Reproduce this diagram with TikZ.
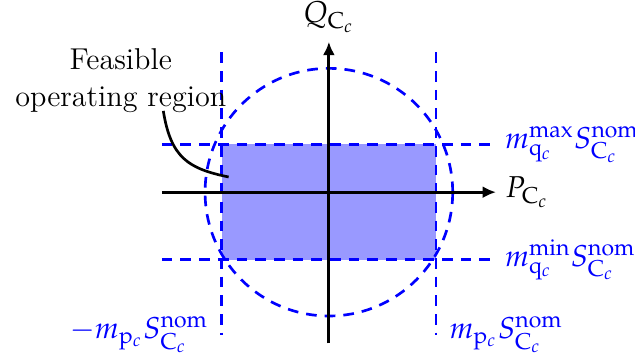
\documentclass[tikz,border=0pt]{standalone}
\usepackage{amsmath}
\usepackage{mathpazo}
\usetikzlibrary{arrows.meta,positioning,calc}

\begin{document}
\begin{tikzpicture}[
    every node/.style = {font=\fontsize{11.3}{13.8}\selectfont},
    axis/.style     = {-{Latex[length=5pt,width=4.5pt]}, line width=1.1pt, draw=black},
    limit/.style    = {dash pattern=on 4pt off 3pt, line width=1pt, draw=blue},
    limlabel/.style = {text=blue, inner sep=2pt},
    region/.style   = {fill=blue!40, draw=none},
    pinline/.style  = {line width=1pt, draw=black}
  ]
    \useasboundingbox (-4.33,-2.22) rectangle (4.03,2.53);

    % feasible box
    \fill[region] (-1.41,-0.89) rectangle (1.41,0.63);

    % limits
    \coordinate (pl) at (-1.41,1.84);  \coordinate (plb) at (-1.41,-1.88);
    \coordinate (pr) at (1.41,1.84);   \coordinate (prb) at (1.41,-1.88);
    \coordinate (qt) at (-2.2,0.63);   \coordinate (qte) at (2.12,0.63);
    \coordinate (qb) at (-2.2,-0.89);  \coordinate (qbe) at (2.12,-0.89);
    \draw[limit] (0,0) circle (1.63);
    \draw[limit] (pl) -- (plb);
    \draw[limit] (pr) -- (prb);
    \draw[limit] (qt) -- (qte);
    \draw[limit] (qb) -- (qbe);

    % axes
    \coordinate (xs) at (-2.2,0);   \coordinate (xe) at (2.2,0);
    \coordinate (ys) at (0,-1.99);  \coordinate (ye) at (0,1.98);
    \draw[axis] (xs) -- (xe);
    \draw[axis] (ys) -- (ye);
    \node[above=0pt of ye] (qlab) {$Q_{\mathrm{C}_c}$};
    \node[right=0pt of xe] (plab) {$P_{\mathrm{C}_c}$};

    % limit labels
    \node[limlabel, right=0.12cm of qte] (qmax) {$m_{\mathrm{q}_c}^{\mathrm{max}}S_{\mathrm{C}_c}^{\mathrm{nom}}$};
    \node[limlabel, right=0.12cm of qbe] (qmin) {$m_{\mathrm{q}_c}^{\mathrm{min}}S_{\mathrm{C}_c}^{\mathrm{nom}}$};
    \node[limlabel, left=0.1cm of plb]   (pmin) {$-m_{\mathrm{p}_c}S_{\mathrm{C}_c}^{\mathrm{nom}}$};
    \node[limlabel, right=0.1cm of prb]  (pmax) {$m_{\mathrm{p}_c}S_{\mathrm{C}_c}^{\mathrm{nom}}$};

    % annotation
    \node[align=center] (feas) at (-2.74,1.47) {Feasible\\operating region};
    \coordinate (pinstart) at (-2.18,1.07);
    \coordinate (pinend)   at (-1.32,0.20);
    \draw[pinline] (pinstart) .. controls (-2.08,0.45) and (-1.85,0.31) .. (pinend);
\end{tikzpicture}
\end{document}
